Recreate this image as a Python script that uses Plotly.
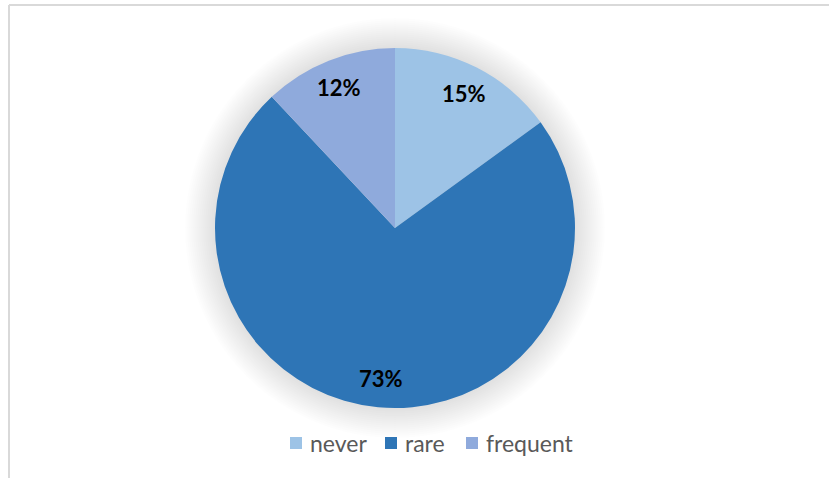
import math
import plotly.graph_objects as go

labels = ["never", "rare", "frequent"]
shares = [15, 73, 12]
colors = ["#9DC3E6", "#2E75B6", "#8FAADC"]

W, H = 829, 478
cx, cy, r = 395, 228, 180
label_radius = 0.84

fig = go.Figure()
fig.add_trace(go.Pie(
    labels=labels,
    values=shares,
    sort=False,
    direction="clockwise",
    rotation=0,
    marker=dict(colors=colors, line=dict(width=0)),
    textinfo="none",
    showlegend=False,
    domain=dict(x=[(cx - r) / W, (cx + r) / W], y=[(H - cy - r) / H, (H - cy + r) / H]),
    hoverinfo="skip",
))

# percentage labels placed along each slice's mid-angle
total = sum(shares)
annotations = []
acc = 0
for v in shares:
    mid = (acc + v / 2) / total * 2 * math.pi
    acc += v
    px = cx + label_radius * r * math.sin(mid)
    py = cy - label_radius * r * math.cos(mid)
    annotations.append(dict(
        x=px / W, y=1 - py / H, xref="paper", yref="paper",
        text=f"{round(v / total * 100)}%", showarrow=False,
        xanchor="center", yanchor="middle",
        font=dict(family="Lato", size=22, color="#000000", weight="bold"),
    ))

# soft shadow glow behind the pie
shapes = []
for i in range(16):
    rr = r + 30 - i * 2
    shapes.append(dict(
        type="circle", xref="paper", yref="paper", layer="below",
        x0=(cx - rr) / W, x1=(cx + rr) / W,
        y0=(H - cy - rr) / H, y1=(H - cy + rr) / H,
        fillcolor="rgba(0,0,0,0.008)", line=dict(width=0),
    ))

# legend row below the pie: colour swatch followed by its label
legend_y = 443
swatch_x = [290, 385, 466]
for lab, col, sx in zip(labels, colors, swatch_x):
    shapes.append(dict(
        type="rect", xref="paper", yref="paper",
        x0=sx / W, x1=(sx + 12) / W,
        y0=1 - (legend_y + 6) / H, y1=1 - (legend_y - 6) / H,
        fillcolor=col, line=dict(width=0),
    ))
    annotations.append(dict(
        x=(sx + 18) / W, y=1 - legend_y / H, xref="paper", yref="paper",
        text=lab, showarrow=False, xanchor="left", yanchor="middle",
        font=dict(family="Lato", size=23, color="#595959"),
    ))

# chart frame (top and left edges)
shapes.append(dict(type="line", xref="paper", yref="paper",
                   x0=9 / W, x1=1, y0=1 - 5 / H, y1=1 - 5 / H,
                   line=dict(color="#D9D9D9", width=2)))
shapes.append(dict(type="line", xref="paper", yref="paper",
                   x0=9 / W, x1=9 / W, y0=0, y1=1 - 5 / H,
                   line=dict(color="#D9D9D9", width=2)))

fig.update_layout(
    width=W, height=H,
    margin=dict(l=0, r=0, t=0, b=0),
    paper_bgcolor="white",
    shapes=shapes,
    annotations=annotations,
    showlegend=False,
)

fig.write_html("out.html")
